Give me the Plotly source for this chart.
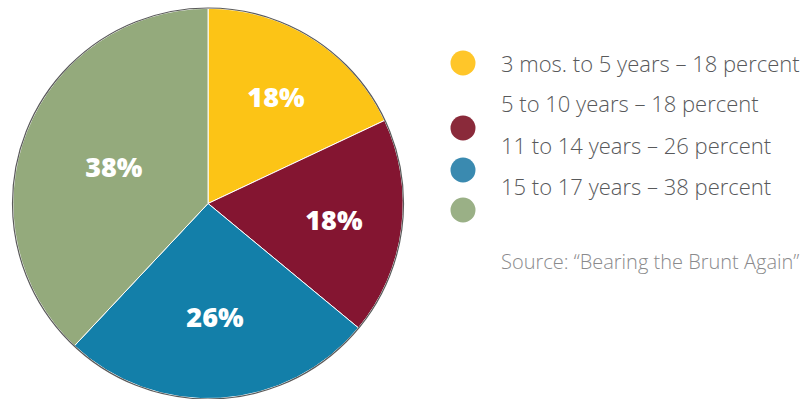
import plotly.graph_objects as go

# Age groups and their share of the total
age_groups = ["3 mos. to 5 years", "5 to 10 years", "11 to 14 years", "15 to 17 years"]
shares = [18, 18, 26, 38]
slice_colors = ["#FCC416", "#841531", "#137FA9", "#94AA7C"]
dot_colors = ["#FFC629", "#8A2A3A", "#3A8AB0", "#9AB086"]
source_text = "Source: \u201cBearing the Brunt Again\u201d"

W, H = 808, 399

fig = go.Figure()
fig.add_trace(go.Pie(
    labels=age_groups,
    values=shares,
    text=[f"{v}%" for v in shares],
    textinfo="text",
    textposition="inside",
    insidetextorientation="horizontal",
    sort=False,
    direction="clockwise",
    rotation=0,
    marker=dict(colors=slice_colors, line=dict(color="#FFFFFF", width=1)),
    textfont=dict(family="Open Sans", size=27, color="#FFFFFF", weight=800),
    domain=dict(x=[0.016, 0.499], y=[0.0, 0.98]),
    showlegend=False,
    hoverinfo="skip",
))

def px_x(p):
    return p / W

def px_y(p):
    return 1 - p / H

# Outer rim of the pie
cx, cy, r = 208, 203.5, 195.5
fig.add_shape(type="circle", xref="paper", yref="paper",
              x0=px_x(cx - r), x1=px_x(cx + r), y0=px_y(cy + r), y1=px_y(cy - r),
              line=dict(color="#5a5a5a", width=1.2), fillcolor="rgba(0,0,0,0)")

# Legend text lines
text_rows = [63, 103, 145, 186]
for label, v, ty in zip(age_groups, shares, text_rows):
    fig.add_annotation(xref="paper", yref="paper", x=px_x(499), y=px_y(ty),
                       xanchor="left", yanchor="middle", showarrow=False,
                       text=f"{label} \u2013 {v} percent",
                       font=dict(family="Open Sans", size=22, color="#58595b", weight=300))

# Legend dots
dot_rows = [63, 128, 170, 210]
dr = 12.5
for col, dy in zip(dot_colors, dot_rows):
    fig.add_shape(type="circle", xref="paper", yref="paper",
                  x0=px_x(463 - dr), x1=px_x(463 + dr),
                  y0=px_y(dy + dr), y1=px_y(dy - dr),
                  line=dict(width=0), fillcolor=col)

fig.add_annotation(xref="paper", yref="paper", x=px_x(499), y=px_y(261),
                   xanchor="left", yanchor="middle", showarrow=False,
                   text=source_text,
                   font=dict(family="Open Sans", size=20, color="#8a8a8c", weight=300))

fig.update_layout(width=W, height=H, margin=dict(l=0, r=0, t=0, b=0),
                  paper_bgcolor="#FFFFFF", plot_bgcolor="#FFFFFF")

fig.write_html("out.html")
